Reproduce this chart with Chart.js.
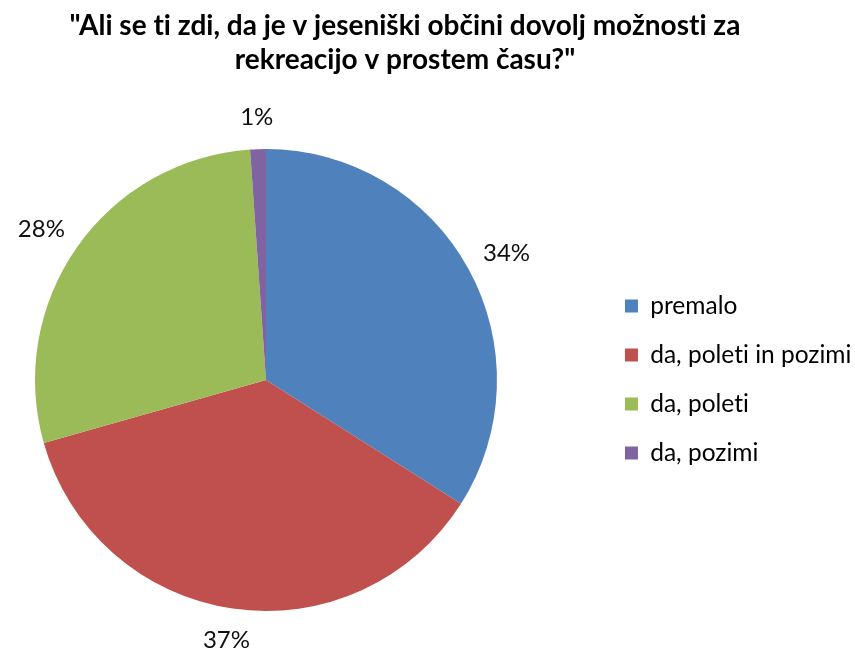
<!DOCTYPE html>
<html>
<head>
<meta charset="utf-8">
<script src="https://cdn.jsdelivr.net/npm/chart.js@4"></script>
<style>
  html, body { margin: 0; padding: 0; background: #fff; }
</style>
</head>
<body>
<canvas id="pieChart" width="855" height="648"></canvas>
<script>
const titleLines = ['"Ali se ti zdi, da je v jeseniški občini dovolj možnosti za', 'rekreacijo v prostem času?"'];
const categories = ['premalo', 'da, poleti in pozimi', 'da, poleti', 'da, pozimi'];
const shares = [34.0, 36.6, 28.3, 1.1];
const colors = ['#4F81BD', '#C0504D', '#9BBB59', '#8064A2'];

const ctx = document.getElementById('pieChart').getContext('2d');

// Empty box between the pie and the legend (pushes the legend to the right)
const legendGap = {
  id: 'legendGap',
  beforeInit(chart) {
    Chart.layouts.addBox(chart, {
      position: 'right',
      weight: 500,
      options: {},
      width: 0,
      height: 0,
      isHorizontal() { return false; },
      update(maxWidth, maxHeight) {
        this.width = 68.5;
        this.height = maxHeight;
      },
      draw() {}
    });
  }
};

// Percent labels just outside each slice
const pctLabels = {
  id: 'pctLabels',
  beforeDraw(chart) {
    // no "ti" ligatures in Lato
    chart.ctx.textRendering = 'optimizeSpeed';
  },
  afterDatasetsDraw(chart) {
    const c = chart.ctx;
    const meta = chart.getDatasetMeta(0);
    const total = shares.reduce((a, b) => a + b, 0);
    const gap = 20;
    const h = 24;
    c.save();
    c.font = '24px Lato';
    c.fillStyle = '#111';
    c.textAlign = 'center';
    c.textBaseline = 'middle';
    meta.data.forEach((arc, i) => {
      const p = arc.getProps(['x', 'y', 'startAngle', 'endAngle', 'outerRadius'], true);
      const mid = (p.startAngle + p.endAngle) / 2;
      const txt = Math.round(shares[i] / total * 100) + '%';
      const w = c.measureText(txt).width;
      const dx = Math.cos(mid), dy = Math.sin(mid);
      const r = p.outerRadius + gap;
      c.fillText(txt, p.x + dx * r + dx * w / 2, p.y + dy * r + dy * h / 2);
    });
    c.restore();
  }
};

const pieChart = new Chart(ctx, {
  type: 'pie',
  data: {
    labels: categories,
    datasets: [{
      data: shares,
      backgroundColor: colors,
      borderWidth: 0
    }]
  },
  options: {
    responsive: false,
    animation: false,
    devicePixelRatio: 1,
    layout: {
      padding: { left: -51.75, right: -6.75, top: 0, bottom: 37 }
    },
    plugins: {
      title: {
        display: true,
        text: titleLines,
        color: '#000',
        font: { family: 'Lato', size: 28, weight: 'bold', lineHeight: 1.19 },
        padding: { top: 9.5, bottom: 72.9 }
      },
      legend: {
        position: 'right',
        maxWidth: 320,
        // empty legend title = same height as the chart title, so the items centre on the pie
        title: {
          display: true,
          text: '',
          font: { size: 12, lineHeight: 1.2 },
          padding: { top: 133.6, bottom: 0 }
        },
        labels: {
          color: '#000',
          font: { family: 'Lato', size: 24.5 },
          boxWidth: 13,
          boxHeight: 13,
          padding: 24.5
        }
      },
      tooltip: { enabled: false }
    }
  },
  plugins: [legendGap, pctLabels]
});
</script>
</body>
</html>
